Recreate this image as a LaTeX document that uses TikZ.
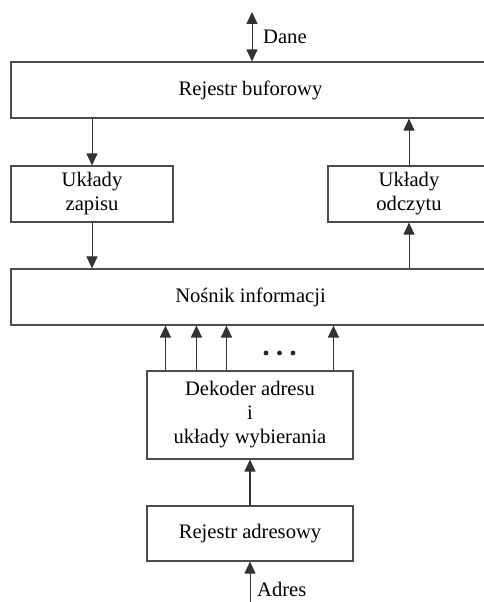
\documentclass[tikz,border=0pt]{standalone}
\usepackage{fontspec}
\setmainfont{Liberation Serif}
\usetikzlibrary{arrows.meta}
\begin{document}
\begin{tikzpicture}[x=1pt,y=-1pt,
  tip/.tip={Triangle[length=12pt,width=11pt]},
  blk/.style={draw=black!70, line width=1.1pt, rectangle, inner sep=0pt,
    align=center, font=\fontsize{20.6}{24}\selectfont},
  conn/.style={draw=black!80, line width=1pt, -tip},
  thick conn/.style={conn, line width=1.6pt},
  lbl/.style={font=\fontsize{20.6}{24}\selectfont, inner sep=0pt, anchor=west}]
\useasboundingbox (0,0) rectangle (484,602);
\clip (0,0) rectangle (484,602);

% blocks
\node[blk, minimum width=479pt, minimum height=56pt] (rb) at (250.5,90) {Rejestr buforowy};
\node[blk, minimum width=162pt, minimum height=56pt] (uz) at (92,194) {Układy\\zapisu};
\node[blk, minimum width=162pt, minimum height=56pt] (uo) at (409,194) {Układy\\odczytu};
\node[blk, minimum width=479pt, minimum height=56pt] (ni) at (250.5,297) {Nośnik informacji};
\node[blk, minimum width=206pt, minimum height=88pt] (dek) at (250,415) {Dekoder adresu\\i\\układy wybierania};
\node[blk, minimum width=206pt, minimum height=55pt] (ra) at (250,533.5) {Rejestr adresowy};

% data bus
\coordinate (dane) at (252,12);
\draw[conn, tip-tip] (dane) -- (dane |- rb.north);
\node[lbl] (danel) at (263,37) {Dane};

% write path
\draw[conn] (uz.north |- rb.south) -- (uz.north);
\draw[conn] (uz.south) -- (uz.south |- ni.north);

% read path
\draw[conn] (uo.south |- ni.north) -- (uo.south);
\draw[conn] (uo.north) -- (uo.north |- rb.south);

% selection lines
\foreach \n/\dx in {1/19,2/50,3/80,4/187} {
  \coordinate (d\n) at ([xshift=\dx pt]dek.north west);
  \draw[thick conn] (d\n) -- (d\n |- ni.south);
}
\foreach \x in {266,279.5,293}
  \fill[black!85] (\x,353) circle (2.4pt);

% address path
\draw[thick conn] (ra.north) -- (dek.south);
\coordinate (adres) at (250,603);
\draw[conn] (adres) -- (ra.south);
\node[lbl] (adresl) at (257,589) {Adres};
\end{tikzpicture}
\end{document}
